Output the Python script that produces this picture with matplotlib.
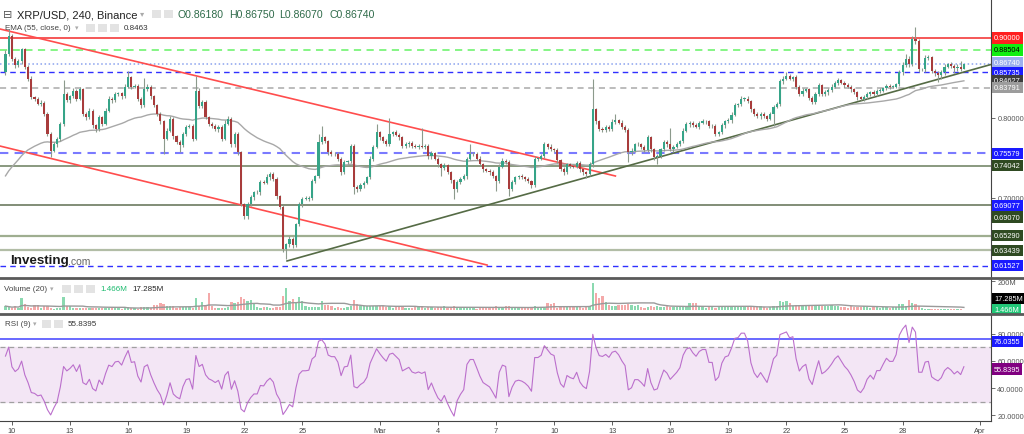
import numpy as np
import pandas as pd
import matplotlib
matplotlib.use("Agg")
import matplotlib.pyplot as plt
from matplotlib.lines import Line2D
from matplotlib.patches import Rectangle

plt.rcParams['font.family'] = ['Liberation Sans', 'DejaVu Sans']

# XRP/USD 4h candles, Binance, 9 Feb 16:00 -> 30 Mar 2022
start = "2022-02-09 16:00"
open_first = 0.858
closes = [
    .880, .902, .874, .866, .871, .886, .864, .849, .826, .824, .818, .819,
    .805, .780, .759, .767, .774, .793, .830, .822, .827, .834, .824, .836,
    .805, .801, .809, .791, .786, .801, .793, .809, .824, .822, .830, .831,
    .827, .839, .851, .839, .840, .824, .816, .836, .839, .827, .816, .805,
    .796, .774, .784, .799, .777, .770, .766, .780, .789, .790, .774, .834,
    .815, .820, .801, .793, .790, .786, .789, .774, .793, .799, .767, .780,
    .757, .692, .677, .692, .701, .707, .707, .720, .719, .726, .730, .724,
    .702, .689, .636, .642, .649, .641, .667, .692, .699, .699, .700, .721,
    .727, .770, .776, .771, .757, .755, .755, .749, .732, .745, .746, .765,
    .714, .711, .716, .719, .726, .749, .764, .782, .776, .771, .767, .780,
    .782, .779, .776, .765, .767, .769, .765, .764, .765, .764, .765, .752,
    .756, .749, .742, .738, .741, .732, .722, .711, .720, .724, .727, .749,
    .755, .755, .749, .742, .736, .734, .732, .727, .721, .739, .746, .745,
    .711, .720, .726, .727, .726, .724, .721, .716, .749, .749, .752, .767,
    .764, .761, .760, .747, .736, .732, .742, .740, .739, .744, .736, .732,
    .730, .742, .811, .796, .786, .785, .789, .786, .795, .797, .794, .789,
    .785, .757, .759, .767, .767, .764, .760, .776, .761, .751, .752, .761,
    .770, .767, .761, .764, .767, .771, .784, .792, .794, .791, .789, .794,
    .796, .796, .790, .790, .780, .782, .791, .796, .797, .804, .816, .817,
    .824, .824, .821, .811, .805, .802, .805, .802, .799, .805, .814, .817,
    .846, .849, .852, .849, .851, .839, .830, .834, .836, .825, .820, .830,
    .841, .830, .832, .835, .839, .844, .847, .844, .841, .839, .836, .832,
    .826, .824, .826, .830, .832, .830, .834, .834, .837, .840, .839, .839,
    .842, .857, .866, .874, .867, .899, .896, .861, .861, .875, .876, .859,
    .856, .854, .857, .864, .867, .865, .862, .864, .8618, .8674,
]
# wick lengths above / below the body, in thousandths
upper_wick = [
    5, 9, 3, 2, 3, 2, 2, 2, 3, 2, 2, 3,
    2, 2, 2, 3, 2, 2, 18, 3, 2, 3, 2, 3,
    2, 2, 3, 2, 2, 3, 2, 3, 3, 2, 3, 2,
    2, 3, 8, 2, 3, 2, 2, 14, 3, 2, 2, 2,
    2, 2, 3, 3, 2, 2, 2, 3, 2, 3, 2, 18,
    3, 2, 3, 2, 2, 3, 2, 2, 4, 3, 2, 3,
    2, 2, 2, 3, 3, 2, 3, 2, 3, 4, 3, 2,
    2, 2, 2, 2, 3, 2, 2, 3, 2, 3, 2, 3,
    2, 10, 14, 2, 2, 3, 2, 2, 2, 3, 2, 3,
    2, 2, 3, 2, 2, 3, 2, 10, 2, 2, 3, 20,
    2, 3, 2, 2, 3, 2, 2, 3, 2, 22, 2, 2,
    3, 2, 2, 2, 3, 2, 2, 2, 3, 2, 3, 2,
    12, 2, 2, 3, 2, 2, 2, 3, 2, 3, 4, 3,
    2, 3, 2, 2, 3, 2, 2, 2, 3, 2, 3, 3,
    2, 3, 2, 2, 2, 3, 2, 2, 3, 2, 2, 2,
    2, 3, 38, 2, 2, 3, 2, 2, 4, 8, 2, 3,
    2, 2, 3, 2, 3, 2, 2, 3, 2, 2, 3, 2,
    3, 2, 20, 2, 3, 2, 3, 3, 2, 2, 3, 2,
    3, 2, 2, 3, 2, 2, 3, 2, 3, 3, 3, 2,
    3, 2, 3, 2, 2, 3, 2, 2, 2, 3, 2, 3,
    3, 3, 5, 3, 2, 3, 2, 3, 2, 2, 3, 2,
    3, 2, 3, 2, 3, 2, 3, 2, 2, 3, 2, 2,
    2, 2, 3, 2, 2, 3, 2, 3, 2, 2, 3, 2,
    2, 3, 4, 6, 4, 3, 15, 3, 2, 4, 3, 2,
    2, 3, 3, 3, 2, 3, 2, 3, 7, 0.1,
]
lower_wick = [
    4, 2, 3, 3, 2, 3, 3, 3, 2, 3, 2, 3,
    3, 3, 8, 2, 3, 3, 3, 2, 3, 2, 3, 2,
    3, 3, 2, 3, 3, 2, 3, 2, 2, 3, 2, 2,
    3, 2, 2, 3, 2, 3, 3, 2, 2, 3, 2, 3,
    3, 19, 2, 2, 3, 3, 9, 2, 3, 2, 3, 2,
    2, 3, 2, 3, 3, 2, 3, 3, 2, 2, 3, 3,
    3, 2, 3, 3, 2, 3, 2, 3, 2, 2, 3, 3,
    3, 3, 3, 12, 3, 3, 2, 2, 3, 2, 3, 2,
    2, 2, 3, 2, 3, 2, 3, 3, 3, 2, 3, 2,
    9, 3, 2, 3, 2, 2, 3, 2, 3, 2, 2, 2,
    3, 2, 3, 2, 2, 3, 2, 2, 3, 2, 3, 3,
    3, 2, 3, 10, 3, 2, 3, 12, 3, 2, 2, 3,
    2, 3, 2, 2, 3, 2, 3, 2, 12, 2, 2, 2,
    9, 2, 3, 2, 2, 3, 2, 3, 2, 3, 2, 2,
    3, 2, 3, 3, 2, 3, 2, 3, 2, 2, 3, 3,
    5, 2, 3, 3, 2, 2, 3, 2, 2, 3, 2, 3,
    2, 12, 3, 2, 2, 3, 2, 2, 3, 3, 9, 2,
    2, 3, 2, 3, 2, 2, 2, 2, 3, 2, 2, 3,
    2, 3, 2, 3, 3, 2, 2, 3, 2, 3, 2, 2,
    2, 3, 2, 3, 2, 2, 3, 2, 3, 2, 15, 2,
    2, 3, 2, 2, 3, 3, 2, 3, 2, 3, 2, 3,
    2, 3, 2, 3, 2, 2, 3, 2, 3, 2, 3, 2,
    3, 2, 3, 2, 3, 2, 2, 3, 2, 2, 3, 2,
    2, 2, 3, 2, 3, 2, 3, 3, 2, 3, 2, 3,
    3, 9, 5, 3, 2, 3, 6, 3, 3, 1.1,
]
# volume, millions
volume = [
    27, 20, 12, 27, 15, 80, 40, 18, 12, 33, 33, 15,
    27, 25, 15, 10, 12, 14, 87, 27, 27, 15, 15, 15,
    12, 14, 13, 12, 13, 15, 14, 12, 13, 15, 14, 12,
    10, 12, 20, 15, 12, 10, 20, 22, 20, 15, 33, 33,
    45, 40, 27, 27, 25, 15, 20, 20, 18, 20, 15, 80,
    30, 53, 33, 120, 27, 15, 13, 12, 15, 20, 53, 45,
    53, 87, 73, 60, 67, 40, 20, 15, 18, 20, 15, 15,
    18, 20, 100, 155, 60, 73, 53, 93, 60, 25, 20, 20,
    20, 20, 60, 33, 33, 30, 15, 20, 12, 15, 18, 27,
    67, 40, 25, 27, 25, 27, 30, 27, 25, 27, 20, 27,
    15, 18, 20, 25, 15, 12, 15, 18, 20, 25, 15, 18,
    20, 15, 18, 22, 25, 15, 20, 25, 18, 15, 20, 12,
    15, 12, 10, 15, 12, 20, 18, 15, 25, 20, 15, 27,
    27, 20, 15, 18, 12, 15, 20, 18, 25, 20, 18, 15,
    45, 40, 45, 15, 25, 20, 25, 18, 25, 20, 25, 15,
    20, 30, 185, 120, 80, 100, 53, 35, 30, 25, 35, 33,
    35, 40, 35, 30, 35, 20, 15, 20, 25, 20, 25, 18,
    20, 25, 20, 18, 22, 25, 20, 18, 50, 45, 50, 30,
    20, 15, 18, 20, 15, 25, 20, 25, 22, 25, 20, 18,
    25, 20, 22, 25, 20, 18, 25, 20, 15, 20, 25, 27,
    60, 55, 60, 45, 30, 35, 30, 35, 30, 35, 30, 25,
    35, 30, 25, 30, 35, 30, 25, 20, 18, 15, 25, 20,
    22, 18, 25, 20, 15, 18, 20, 15, 18, 20, 15, 20,
    18, 40, 40, 30, 70, 45, 40, 30, 15, 10, 8, 7,
    8, 10, 6, 8, 6, 7, 5, 6, 8, 1.466,
]
ema_seed = 0.722
rsi_seed_gain, rsi_seed_loss = 0.006, 0.005

# horizontal levels on the price pane
levels = [0.90000, 0.88504, 0.86740, 0.85735, 0.83791, 0.75579, 0.74042,
          0.69070, 0.65290, 0.63439, 0.61527]
level_style = [('#f44a4a', '-', 1.3), ('#7cf57c', (0, (4, 3)), 1.3),
               ('#8aa2ee', ':', 1.1), ('#3030ff', (0, (4, 3)), 1.0),
               ('#aaaaaa', (0, (4, 3)), 1.1), ('#7a7aff', (0, (4, 3)), 1.5),
               ('#75876a', '-', 1.2), ('#5f6f52', '-', 1.1),
               ('#9fae90', '-', 1.6), ('#b2bda6', '-', 1.6),
               ('#3030ff', (0, (4, 3)), 1.0)]
# axis tags: value, text, box colour, text colour, shift (to avoid overlap)
tags = [(0.90000, '0.90000', '#ff2020', 'white', 0),
        (0.88504, '0.88504', '#11ee11', 'black', 0),
        (0.86740, '0.86740', '#9db0ee', 'white', 0.0015),
        (0.85735, '0.85735', '#1a1aff', 'white', -0.0005),
        (0.84627, '0.84627', '#3c3c3c', 'white', 0),
        (0.83791, '0.83791', '#9c9c9c', 'white', 0),
        (0.75579, '0.75579', '#1a1aff', 'white', 0),
        (0.74042, '0.74042', '#2f4a22', 'white', 0),
        (0.69077, '0.69077', '#1a1aff', 'white', 0),
        (0.69070, '0.69070', '#2f4a22', 'white', -0.0145),
        (0.65290, '0.65290', '#2f4a22', 'white', 0),
        (0.63439, '0.63439', '#2f4a22', 'white', 0),
        (0.61527, '0.61527', '#1a1aff', 'white', 0)]
# drawn trend lines: (time, price) pairs
red_top = [("2022-02-09 09:00", 0.9113), ("2022-03-13 04:00", 0.7275)]
red_low = [("2022-02-09 09:00", 0.7650), ("2022-03-06 13:00", 0.6162)]
support = [("2022-02-24 05:00", 0.6213), ("2022-04-01 14:00", 0.8670)]
rsi_line = 76.0355
rsi_last = 55.8395
tick_dates = ["2022-02-10", "2022-02-13", "2022-02-16", "2022-02-19", "2022-02-22",
              "2022-02-25", "2022-03-01", "2022-03-04", "2022-03-07", "2022-03-10",
              "2022-03-13", "2022-03-16", "2022-03-19", "2022-03-22", "2022-03-25",
              "2022-03-28", "2022-04-01"]
tick_labels = ["10", "13", "16", "19", "22", "25", "Mar", "4", "7", "10", "13",
               "16", "19", "22", "25", "28", "Apr"]

t0 = pd.Timestamp(start)
def pos(t):
    return (pd.Timestamp(t) - t0) / pd.Timedelta(hours=4)

c = np.array(closes)
o = np.r_[open_first, c[:-1]]
hi = np.maximum(o, c) + np.array(upper_wick) / 1000
lo = np.minimum(o, c) - np.array(lower_wick) / 1000
x = np.arange(len(c))
up = c >= o

ema = []
e = ema_seed
for v in c:
    e += (v - e) * 2 / 56
    ema.append(e)

rsi = []
g, l = rsi_seed_gain, rsi_seed_loss
for d in c - o:
    g = (g * 8 + max(d, 0)) / 9
    l = (l * 8 + max(-d, 0)) / 9
    rsi.append(100 - 100 / (1 + g / l))

vol = pd.Series(volume)
vol_ma = vol.rolling(20, min_periods=1).mean()

W, H = 1024, 435
fig = plt.figure(figsize=(W / 100, H / 100), dpi=100)
R = 991 / W
ax = fig.add_axes([0, 1 - 278 / H, R, 278 / H])
axv = fig.add_axes([0, 1 - 313 / H, R, 33 / H])
axr = fig.add_axes([0, 1 - 422 / H, R, 106 / H])

xmin, xmax = -1.7, 305.4
for a in (ax, axv, axr):
    a.set_xlim(xmin, xmax)
    a.yaxis.tick_right()
    for s in ('left', 'top', 'bottom'):
        a.spines[s].set_visible(False)
    a.spines['right'].set_color('#444444')
    a.spines['right'].set_linewidth(0.8)
    a.tick_params(axis='y', labelsize=5.3, colors='#555555', length=3, pad=1.5, width=0.6)
    a.tick_params(axis='x', bottom=False, labelbottom=False)

# price pane
ax.set_ylim(0.60125, 0.94875)
for val, (col, ls, lw) in zip(levels, level_style):
    ax.axhline(val, color=col, ls=ls, lw=lw, zorder=1)
for seg, col in ((red_top, '#ff4d4d'), (red_low, '#ff4d4d'), (support, '#556b45')):
    ax.plot([pos(seg[0][0]), pos(seg[1][0])], [seg[0][1], seg[1][1]], color=col, lw=1.2, zorder=2)
ax.plot(x, ema, color='#a8a8a8', lw=1.0, zorder=2)
ax.vlines(x, lo, hi, color='#8c9a8c', lw=0.8, zorder=3)
body_col = np.where(up, '#36a488', '#a83c3c')
ax.bar(x, np.maximum(np.abs(c - o), 0.0006), bottom=np.minimum(o, c), width=0.66,
       color=body_col, edgecolor='none', zorder=4)
ax.set_yticks([0.7, 0.8])
ax.set_yticklabels(['0.70000', '0.80000'])
for val, txt, bg, fg, shift in tags:
    ax.text(1.003, val + shift, txt, transform=ax.get_yaxis_transform(), fontsize=5.3,
            color=fg, va='center', ha='left', zorder=10, clip_on=False,
            bbox=dict(boxstyle='square,pad=0.28', fc=bg, ec='none'))

# volume pane
axv.set_ylim(-13.8, 213.8)
vcol = np.where(up, '#8bd9b0', '#f4a9a9')
axv.bar(x, volume, width=0.7, color=vcol, edgecolor='none')
axv.plot(x, vol_ma, color='#9a9a9a', lw=1.0)
axv.set_yticks([200])
axv.set_yticklabels(['200M'])
axv.text(1.003, 0.4, '17.285M', transform=axv.transAxes, fontsize=5.3, color='white',
         va='center', ha='left', clip_on=False, bbox=dict(boxstyle='square,pad=0.28', fc='black', ec='none'))
axv.text(1.003, 0.08, '1.466M', transform=axv.transAxes, fontsize=5.3, color='white',
         va='center', ha='left', clip_on=False, bbox=dict(boxstyle='square,pad=0.28', fc='#22c878', ec='none'))

# RSI pane
axr.set_ylim(15.56, 94.07)
axr.axhspan(30, 70, color='#f3e6f5', zorder=0)
axr.axhline(70, color='#a0a0a0', ls=(0, (4, 3)), lw=0.9)
axr.axhline(30, color='#a0a0a0', ls=(0, (4, 3)), lw=0.9)
axr.axhline(rsi_line, color='#4040ff', lw=1.1)
axr.plot(x, rsi, color='#bb6fcc', lw=0.8)
axr.set_yticks([20, 40, 60, 80])
axr.set_yticklabels(['20.0000', '40.0000', '60.0000', '80.0000'])
# tags nudged down slightly so the 80 / 60 tick labels stay readable
axr.text(1.003, rsi_line - 1.8, '76.0355', transform=axr.get_yaxis_transform(), fontsize=5.3,
         color='white', va='center', ha='left', clip_on=False,
         bbox=dict(boxstyle='square,pad=0.28', fc='#1a1aff', ec='none'))
axr.text(1.003, rsi_last - 1.8, '55.8395', transform=axr.get_yaxis_transform(), fontsize=5.3,
         color='white', va='center', ha='left', clip_on=False,
         bbox=dict(boxstyle='square,pad=0.28', fc='#800080', ec='none'))
axr.spines['bottom'].set_visible(True)
axr.spines['bottom'].set_color('#444444')
axr.spines['bottom'].set_linewidth(0.8)
axr.set_xticks([pos(d) for d in tick_dates])
axr.set_xticklabels(tick_labels)
axr.tick_params(axis='x', bottom=True, labelbottom=True, labelsize=5.3, colors='#444444',
                length=3, pad=1.5, width=0.6)

# pane separators
for yy in (278.5, 314.5):
    fig.add_artist(Line2D([0, 1], [1 - yy / H] * 2, color='#5a5a5a', lw=2.0))

def fx(px, py):
    return px / W, 1 - py / H

def icons(xs, py):
    for px in xs:
        fig.add_artist(Rectangle(fx(px, py + 4), 9 / W, 8 / H, fc='#e3e3e3', ec='none'))

# legends
fig.text(*fx(3, 15), '\u229f', fontsize=8, color='#555555', va='center')
fig.text(*fx(17, 15), 'XRP/USD, 240, Binance', fontsize=8.0, color='#222222', va='center')
fig.text(*fx(140, 15), '\u25be', fontsize=6, color='#aaaaaa', va='center')
icons([152, 164], 15)
for px, txt in ((178, 'O0.86180'), (229, 'H0.86750'), (279, 'L0.86070'), (329, 'C0.86740')):
    fig.text(*fx(px, 15), txt, fontsize=7.6, color='#2f6b4a', va='center')
fig.text(*fx(5, 29), 'EMA (55, close, 0)', fontsize=5.8, color='#444444', va='center')
fig.text(*fx(75, 29), '\u25be', fontsize=5, color='#aaaaaa', va='center')
icons([86, 98, 110], 29)
fig.text(*fx(124, 29), '0.8463', fontsize=5.8, color='#333333', va='center')

fig.text(*fx(4, 290), 'Volume (20)', fontsize=5.8, color='#444444', va='center')
fig.text(*fx(50, 290), '\u25be', fontsize=5, color='#aaaaaa', va='center')
icons([62, 74, 86], 290)
fig.text(*fx(100, 290), '1.466M', fontsize=5.8, color='#1cba6e', va='center')
fig.text(*fx(132, 290), '17.285M', fontsize=5.8, color='#222222', va='center')

fig.text(*fx(5, 325), 'RSI (9)', fontsize=5.8, color='#444444', va='center')
fig.text(*fx(33, 325), '\u25be', fontsize=5, color='#aaaaaa', va='center')
icons([42, 54], 325)
fig.text(*fx(68, 325), '55.8395', fontsize=5.8, color='#333333', va='center')

fig.text(*fx(10, 261), 'Investing', fontsize=9.6, fontweight='bold', color='#1a1a1a', va='center')
fig.text(*fx(68, 262), '.com', fontsize=7.5, color='#666666', va='center')

fig.savefig('out.png', dpi=100)
